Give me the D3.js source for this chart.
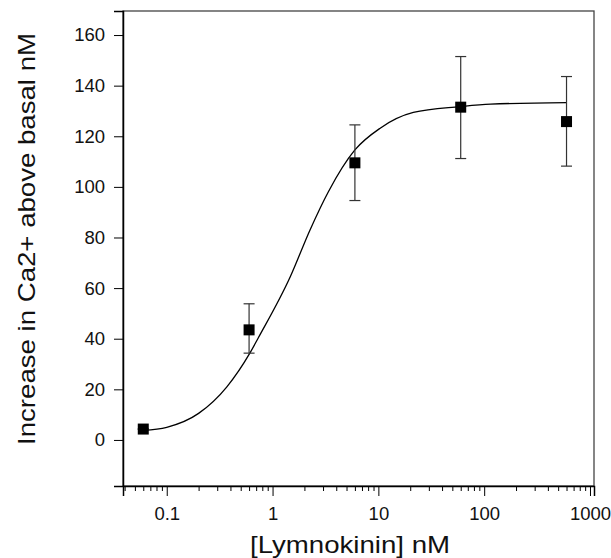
<!DOCTYPE html>
<html lang="en">
<head>
    <meta charset="UTF-8">
    <title> Lymnokinin dose response </title>
    <script src="https://cdn.jsdelivr.net/npm/d3@7"></script>
    <style>
        body { margin: 0; background: #fff; }
        text { font-family: "Liberation Sans", Arial, sans-serif; fill: #111; }
    </style>
</head>
<body>
<svg width="611" height="558"></svg>
<script>
    // measured points
    let conc = [0.06, 0.6, 6, 60, 600];
    let meanCa = [4.3, 43.5, 109.5, 131.5, 125.8];
    let upperCa = [4.3, 53.8, 124.5, 151.5, 143.6];
    let lowerCa = [4.3, 34.3, 94.6, 111.2, 108.2];

    // fitted curve
    let fitConc = [0.06, 0.1, 0.2, 0.37, 0.61, 0.73, 1.47, 2.26, 3.37, 6.0, 10.4, 21.4, 59, 115, 600];
    let fitCa = [3.8, 5.0, 10.5, 21, 34.3, 40.2, 64.5, 83, 98.1, 114.6, 123.2, 129.4, 131.7, 132.7, 133.3];

    let xTicks = [0.1, 1, 10, 100, 1000];
    let yTicks = [0, 20, 40, 60, 80, 100, 120, 140, 160];

    let mLeft = 123, mTop = 11, mRight = 594, mBottom = 486;
    let svg = d3.select('svg');

    let scaleX = d3.scaleLog().domain([0.0386, 1091]).range([mLeft, mRight]);
    let scaleY = d3.scaleLinear().domain([-18.2, 169.5]).range([mBottom, mTop]);

    // frame
    svg.append('rect')
        .attr('x', mLeft).attr('y', mTop)
        .attr('width', mRight - mLeft).attr('height', mBottom - mTop)
        .attr('fill', 'none').attr('stroke', '#444').attr('stroke-width', 1.3);

    // minor ticks on x
    let minor = [];
    for (let e = -2; e < 3; e++) {
        for (let k = 2; k < 10; k++) {
            let v = k * Math.pow(10, e);
            if (v > 0.0386 && v < 1000) minor.push(v);
        }
    }
    svg.append('g')
        .attr('transform', 'translate(0,' + mBottom + ')')
        .call(d3.axisBottom(scaleX).tickValues(minor).tickSize(5).tickFormat(''))
        .call(g => g.select('.domain').remove());

    let xAxis = svg.append('g')
        .attr('transform', 'translate(0,' + mBottom + ')')
        .call(d3.axisBottom(scaleX).tickValues(xTicks).tickSize(10).tickPadding(11)
            .tickFormat(d => d3.format('~g')(d)));
    xAxis.select('.domain').attr('stroke', '#000').attr('stroke-width', 1.5);
    xAxis.selectAll('text').attr('font-size', 18.5).attr('fill', '#111');

    let yAxis = svg.append('g')
        .attr('transform', 'translate(' + mLeft + ',0)')
        .call(d3.axisLeft(scaleY).tickValues(yTicks).tickSize(9).tickPadding(9));
    yAxis.select('.domain').attr('stroke', '#000').attr('stroke-width', 1.5);
    yAxis.selectAll('text').attr('font-size', 18.5).attr('fill', '#111');

    // fitted curve
    let line = d3.line()
        .x((d, i) => scaleX(fitConc[i]))
        .y(d => scaleY(d))
        .curve(d3.curveMonotoneX);
    svg.append('path')
        .attr('d', line(fitCa))
        .attr('fill', 'none').attr('stroke', '#000').attr('stroke-width', 1.3);

    // error bars
    let bars = svg.append('g').attr('stroke', '#333').attr('stroke-width', 1.2);
    conc.forEach(function (c, i) {
        let x = scaleX(c);
        bars.append('line')
            .attr('x1', x).attr('x2', x)
            .attr('y1', scaleY(upperCa[i])).attr('y2', scaleY(lowerCa[i]));
        [upperCa[i], lowerCa[i]].forEach(function (v) {
            bars.append('line')
                .attr('x1', x - 5.5).attr('x2', x + 5.5)
                .attr('y1', scaleY(v)).attr('y2', scaleY(v));
        });
    });

    svg.append('g').selectAll('rect')
        .data(conc)
        .enter()
        .append('rect')
        .attr('x', d => scaleX(d) - 5.5)
        .attr('y', (d, i) => scaleY(meanCa[i]) - 5.5)
        .attr('width', 11).attr('height', 11)
        .attr('fill', '#000');

    svg.append('text')
        .attr('x', 350).attr('y', 553)
        .attr('text-anchor', 'middle')
        .attr('font-size', 24)
        .attr('textLength', 200)
        .attr('lengthAdjust', 'spacingAndGlyphs')
        .text('[Lymnokinin] nM');

    svg.append('text')
        .attr('transform', 'translate(35,239) rotate(-90)')
        .attr('text-anchor', 'middle')
        .attr('font-size', 24)
        .attr('textLength', 412)
        .attr('lengthAdjust', 'spacingAndGlyphs')
        .text('Increase in Ca2+ above basal nM');
</script>
</body>
</html>
